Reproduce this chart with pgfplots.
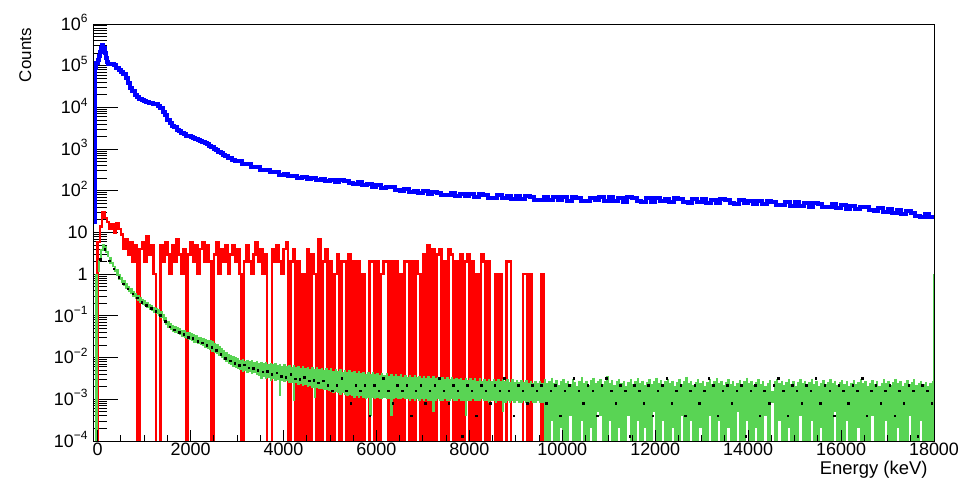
\documentclass[border=0pt]{standalone}
\usepackage{fontspec}
\setmainfont{Liberation Sans}
\usepackage{pgfplots}
\usepackage{pgfplotstable}
\pgfplotsset{compat=1.18}

\definecolor{hblue}{RGB}{0,0,255}
\definecolor{hred}{RGB}{255,0,0}
\definecolor{hgreen}{RGB}{89,212,84}

\newcommand{\tfont}{\fontsize{18}{21}\selectfont}
% ROOT-style power-of-ten tick label
\newcommand{\ex}[1]{10\smash{\raisebox{0.42em}{\fontsize{12}{12}\selectfont #1}}}

% Histograms: left bin edge E (keV) and bin content; empty bins are stored as 1e-6
\pgfplotstableread[row sep=\\]{
E v\\
-100 18\\ -50 9.0e4\\ -25 1.15e5\\ 0 1.35e5\\ 25 1.7e5\\ 50 2.1e5\\ 75 2.7e5\\ 100 3.2e5\\ 125 2.6e5\\ 150 2.0e5\\
175 1.55e5\\ 200 1.25e5\\ 225 1.12e5\\ 250 1.08e5\\ 300 1.1e5\\ 350 1.02e5\\ 400 9.0e4\\ 450 8.1e4\\ 500 7.0e4\\ 550 6.4e4\\
600 5.0e4\\ 650 3.8e4\\ 700 3.0e4\\ 750 2.45e4\\ 800 2.0e4\\ 850 1.78e4\\ 900 1.6e4\\ 950 1.52e4\\ 1000 1.42e4\\ 1050 1.37e4\\
1100 1.3e4\\ 1150 1.26e4\\ 1200 1.18e4\\ 1250 1.2e4\\ 1300 1.1e4\\ 1350 9.6e3\\ 1400 7.8e3\\ 1450 6.4e3\\ 1500 5.0e3\\ 1550 4.3e3\\
1600 3.6e3\\ 1650 3.3e3\\ 1700 2.9e3\\ 1750 2.65e3\\ 1800 2.4e3\\ 1850 2.3e3\\ 1900 2.1e3\\ 1950 2.05e3\\ 2000 1.9e3\\ 2050 1.85e3\\
2100 1.72e3\\ 2150 1.68e3\\ 2200 1.56e3\\ 2250 1.52e3\\ 2300 1.4e3\\ 2350 1.32e3\\ 2400 1.18e3\\ 2450 1.1e3\\ 2500 980\\ 2550 930\\
2600 840\\ 2650 790\\ 2700 710\\ 2750 680\\ 2800 620\\ 2850 600\\ 2900 545\\ 2950 530\\
3000 510\\ 3100 440\\ 3200 438\\ 3300 380\\ 3400 376\\ 3500 322\\ 3600 318\\ 3700 278\\ 3800 280\\ 3900 244\\
4000 252\\ 4100 222\\ 4200 232\\ 4300 204\\ 4400 216\\ 4500 192\\ 4600 204\\ 4700 182\\ 4800 196\\ 4900 172\\
5000 186\\ 5100 165\\ 5200 180\\ 5300 172\\ 5400 155\\ 5500 148\\ 5600 160\\ 5700 137\\ 5800 146\\ 5900 125\\
6000 138\\ 6100 116\\ 6200 126\\ 6300 120\\ 6400 104\\ 6500 100\\ 6600 110\\ 6700 93\\ 6800 101\\ 6900 87\\
7000 97\\ 7100 84\\ 7200 94\\ 7300 90\\ 7400 80\\ 7500 80\\ 7600 88\\ 7700 76\\ 7800 85\\ 7900 74\\
8000 84\\ 8100 72\\ 8200 82\\ 8300 80\\ 8400 69\\ 8500 69\\ 8600 78\\ 8700 67\\ 8800 77\\ 8900 65\\
9000 76\\ 9100 62\\ 9200 74\\ 9300 71\\ 9400 61\\ 9500 60\\ 9600 73\\ 9700 59\\ 9800 71\\ 9900 59\\
10000 72\\ 10100 58\\ 10200 70\\ 10300 67\\ 10400 57\\ 10500 57\\ 10600 69\\ 10700 59\\ 10800 71\\ 10900 56\\
11000 70\\ 11100 58\\ 11200 67\\ 11300 55\\ 11400 70\\ 11500 68\\ 11600 56\\ 11700 55\\ 11800 68\\ 11900 54\\
12000 67\\ 12100 56\\ 12200 64\\ 12300 53\\ 12400 66\\ 12500 63\\ 12600 53\\ 12700 52\\ 12800 64\\ 12900 53\\
13000 63\\ 13100 52\\ 13200 61\\ 13300 51\\ 13400 62\\ 13500 60\\ 13600 50\\ 13700 49\\ 13800 60\\ 13900 50\\
14000 58\\ 14100 48\\ 14200 58\\ 14300 47\\ 14400 56\\ 14500 54\\ 14600 46\\ 14700 45\\ 14800 54\\ 14900 44\\
15000 53\\ 15100 43\\ 15200 51\\ 15300 42\\ 15400 50\\ 15500 48\\ 15600 40\\ 15700 40\\ 15800 47\\ 15900 38\\
16000 46\\ 16100 37\\ 16200 44\\ 16300 36\\ 16400 42\\ 16500 40\\ 16600 34\\ 16700 33\\ 16800 39\\ 16900 31\\
17000 37\\ 17100 30\\ 17200 34\\ 17300 28\\ 17400 32\\ 17500 30\\ 17600 25\\ 17700 24\\ 17800 28\\ 17900 23\\
18000 23\\
}\bluetab

\pgfplotstableread[row sep=\\]{
E v\\
-50 1e-6\\ 0 6\\ 50 14\\ 100 30\\ 150 22\\ 200 18\\ 250 12\\ 300 16\\ 350 10\\ 400 17\\ 450 12\\
500 9\\ 550 4\\ 600 7\\ 650 3\\ 700 6\\ 750 2\\ 800 5\\ 850 1e-6\\ 900 4\\ 950 6\\
1000 2\\ 1050 8\\ 1100 3\\ 1150 5\\ 1200 1\\ 1250 1e-6\\ 1300 1e-6\\ 1350 5\\ 1400 2\\ 1450 6\\
1500 3\\ 1550 1\\ 1600 5\\ 1650 2\\ 1700 7\\ 1750 3\\ 1800 1\\ 1850 4\\ 1900 1e-6\\ 1950 3\\
2000 6\\ 2050 2\\ 2100 5\\ 2150 1\\ 2200 4\\ 2250 6\\ 2300 2\\ 2350 5\\ 2400 2\\ 2450 1e-6\\
2500 3\\ 2550 6\\ 2600 1\\ 2650 4\\ 2700 2\\ 2750 5\\ 2800 1\\ 2850 3\\ 2900 5\\ 2950 2\\
3000 4\\ 3050 1\\ 3100 1e-6\\ 3150 2\\ 3200 5\\ 3250 2\\ 3300 1\\ 3350 3\\ 3400 6\\ 3450 2\\
3500 4\\ 3550 1\\ 3600 3\\ 3650 1e-6\\ 3700 1e-6\\ 3750 4\\ 3800 2\\ 3850 5\\ 3900 2\\ 3950 1\\
4000 4\\ 4050 6\\ 4100 1e-6\\ 4150 2\\ 4200 4\\ 4250 1e-6\\ 4300 2\\ 4350 1e-6\\ 4400 1\\ 4450 1e-6\\
4500 4\\ 4550 1e-6\\ 4600 3\\ 4650 1\\ 4700 1e-6\\ 4750 7\\ 4800 1e-6\\ 4850 2\\ 4900 4\\ 4950 1e-6\\
5000 2\\ 5050 1e-6\\ 5100 1\\ 5150 3\\ 5200 1e-6\\ 5250 2\\ 5300 2\\ 5350 1e-6\\ 5400 3\\ 5450 1e-6\\
5500 2\\ 5550 1e-6\\ 5600 2\\ 5650 1e-6\\ 5700 1\\ 5750 1e-6\\ 5800 1e-6\\ 5850 2\\ 5900 2\\ 5950 1e-6\\
6000 2\\ 6050 1e-6\\ 6100 1\\ 6150 2\\ 6200 2\\ 6250 1e-6\\ 6300 2\\ 6350 1e-6\\ 6400 2\\ 6450 1e-6\\
6500 1\\ 6550 1e-6\\ 6600 2\\ 6650 2\\ 6700 1e-6\\ 6750 2\\ 6800 1e-6\\ 6850 2\\ 6900 1\\ 6950 1e-6\\
7000 3\\ 7050 1e-6\\ 7100 5\\ 7150 1e-6\\ 7200 4\\ 7250 1e-6\\ 7300 3\\ 7350 4\\ 7400 1e-6\\ 7450 2\\
7500 1e-6\\ 7550 4\\ 7600 3\\ 7650 1e-6\\ 7700 2\\ 7750 1e-6\\ 7800 3\\ 7850 1e-6\\ 7900 2\\ 7950 3\\
8000 1e-6\\ 8050 2\\ 8100 1e-6\\ 8150 1\\ 8200 1e-6\\ 8250 3\\ 8300 2\\ 8350 1e-6\\ 8400 2\\ 8450 1e-6\\
8500 1e-6\\ 8550 1\\ 8600 1e-6\\ 8650 1\\ 8700 1e-6\\ 8750 1e-6\\ 8800 2\\ 8850 2\\ 8900 1e-6\\ 8950 1e-6\\
9000 1e-6\\ 9050 1e-6\\ 9100 1e-6\\ 9150 1\\ 9200 1\\ 9250 1e-6\\ 9300 1\\ 9350 1e-6\\ 9400 1e-6\\ 9450 1e-6\\
9500 1e-6\\ 9550 1\\ 9600 1e-6\\
}\redtab

% Green histogram: upper (u) and lower (l) envelope of the fine-binned content in each 50 keV slice
\pgfplotstableread[row sep=\\]{
E u l\\
-50 1 1e-6\\ 0 2.2 1.1\\ 50 4.0 2.5\\ 100 5.3 3.7\\ 150 4.7 3.3\\ 200 3.7 2.6\\ 250 2.6 1.8\\ 300 2.0 1.45\\ 350 1.6 1.15\\ 400 1.3 0.93\\ 450 1.02 0.74\\
500 0.86 0.62\\ 550 0.72 0.52\\ 600 0.61 0.43\\ 650 0.53 0.38\\ 700 0.46 0.33\\ 750 0.40 0.29\\ 800 0.355 0.255\\ 850 0.32 0.225\\ 900 0.285 0.205\\ 950 0.26 0.185\\
1000 0.236 0.17\\ 1050 0.216 0.155\\ 1100 0.198 0.14\\ 1150 0.182 0.13\\ 1200 0.168 0.12\\ 1250 0.157 0.11\\ 1300 0.146 0.10\\ 1350 0.132 0.088\\ 1400 0.112 0.074\\ 1450 0.092 0.062\\
1500 0.077 0.052\\ 1550 0.067 0.046\\ 1600 0.061 0.042\\ 1650 0.057 0.038\\ 1700 0.054 0.036\\ 1750 0.050 0.034\\ 1800 0.047 0.032\\ 1850 0.045 0.029\\ 1900 0.042 0.028\\ 1950 0.040 0.026\\
2000 0.038 0.025\\ 2050 0.036 0.023\\ 2100 0.034 0.022\\ 2150 0.032 0.021\\ 2200 0.031 0.020\\ 2250 0.030 0.019\\ 2300 0.028 0.017\\ 2350 0.027 0.016\\ 2400 0.026 0.015\\ 2450 0.025 0.014\\
2500 0.023 0.013\\ 2550 0.021 0.012\\ 2600 0.019 0.011\\ 2650 0.017 0.0096\\ 2700 0.015 0.0086\\ 2750 0.0135 0.0078\\ 2800 0.0125 0.0072\\ 2850 0.0115 0.0066\\ 2900 0.0108 0.0061\\ 2950 0.0102 0.0057\\
3000 0.0100 0.0052\\ 3050 0.0090 0.0050\\ 3100 0.0094 0.0046\\ 3150 0.0085 0.0047\\ 3200 0.0090 0.0043\\ 3250 0.0082 0.0044\\ 3300 0.0086 0.0040\\ 3350 0.0078 0.0042\\ 3400 0.0083 0.0038\\ 3450 0.0076 0.0036\\
3500 0.0080 0.0031\\ 3550 0.0074 0.0034\\ 3600 0.0078 0.0031\\ 3650 0.0071 0.0032\\ 3700 0.0075 0.0028\\ 3750 0.0069 0.0030\\ 3800 0.0073 0.0027\\ 3850 0.0066 0.0029\\ 3900 0.0071 0.0012\\ 3950 0.0064 0.0027\\
4000 0.0069 0.0026\\ 4050 0.0062 0.0027\\ 4100 0.0067 0.0024\\ 4150 0.0060 0.0025\\ 4200 0.0065 0.0009\\ 4250 0.0058 0.0024\\ 4300 0.0063 0.0022\\ 4350 0.0057 0.0023\\ 4400 0.0062 0.0021\\ 4450 0.0055 0.0022\\
4500 0.0060 0.0020\\ 4550 0.0054 0.0021\\ 4600 0.0059 0.0019\\ 4650 0.0053 0.0011\\ 4700 0.0058 0.0019\\ 4750 0.0052 0.0018\\ 4800 0.0057 0.0018\\ 4850 0.0051 0.0017\\ 4900 0.0056 0.0017\\ 4950 0.0050 0.0016\\
5000 0.0055 0.0015\\ 5050 0.0049 0.0014\\ 5100 0.0053 0.0015\\ 5150 0.0047 0.0014\\ 5200 0.0052 0.0013\\ 5250 0.0046 0.0014\\ 5300 0.0051 0.0013\\ 5350 0.0045 0.0012\\ 5400 0.0050 0.0013\\ 5450 0.0044 0.0012\\
5500 0.0049 0.0011\\ 5550 0.0043 0.0012\\ 5600 0.0047 0.0011\\ 5650 0.0042 0.0012\\ 5700 0.0046 0.0011\\ 5750 0.0041 0.0010\\ 5800 0.0045 0.0011\\ 5850 0.0040 0.0004\\ 5900 0.0044 0.0011\\ 5950 0.0040 0.0010\\
6000 0.0043 0.0011\\ 6050 0.0039 0.0010\\ 6100 0.0042 0.0010\\ 6150 0.0038 0.0011\\ 6200 0.0042 0.0010\\ 6250 0.0037 0.0010\\ 6300 0.0041 0.0004\\ 6350 0.0037 0.0010\\ 6400 0.0040 0.0011\\ 6450 0.0036 0.0010\\
6500 0.0040 0.0010\\ 6550 0.0035 0.0011\\ 6600 0.0039 0.0010\\ 6650 0.0035 0.0010\\ 6700 0.0038 0.0009\\ 6750 0.0034 0.0010\\ 6800 0.0038 0.0009\\ 6850 0.0034 0.0010\\ 6900 0.0037 0.0009\\ 6950 0.0033 0.0010\\
7000 0.0037 0.0009\\ 7050 0.0033 0.0010\\ 7100 0.0036 0.0009\\ 7150 0.0032 0.0009\\ 7200 0.0036 0.0005\\ 7250 0.0032 0.0009\\ 7300 0.0035 0.0010\\ 7350 0.0031 0.0009\\ 7400 0.0035 0.0009\\ 7450 0.0031 0.0010\\
7500 0.0034 0.0009\\ 7550 0.0030 0.0009\\ 7600 0.0034 0.0010\\ 7650 0.0030 0.0009\\ 7700 0.0033 0.0009\\ 7750 0.0030 0.0010\\ 7800 0.0033 0.0009\\ 7850 0.0029 0.0009\\ 7900 0.0033 0.0004\\ 7950 0.0029 0.0009\\
8000 0.0032 0.0009\\ 8050 0.0029 0.0010\\ 8100 0.0032 0.0009\\ 8150 0.0028 0.0009\\ 8200 0.0032 0.0009\\ 8250 0.0028 0.0010\\ 8300 0.0031 0.0009\\ 8350 0.0028 0.0009\\ 8400 0.0031 0.0008\\ 8450 0.0027 0.0009\\
8500 0.0031 0.0009\\ 8550 0.0027 0.0008\\ 8600 0.0030 0.0009\\ 8650 0.0027 0.0009\\ 8700 0.0030 0.0005\\ 8750 0.0027 0.0008\\ 8800 0.0030 0.0009\\ 8850 0.0026 0.0008\\ 8900 0.0030 0.0009\\ 8950 0.0026 0.0008\\
9000 0.0029 0.0009\\ 9050 0.0026 0.0008\\ 9100 0.0029 0.0008\\ 9150 0.0026 0.0009\\ 9200 0.0029 0.0008\\ 9250 0.0025 0.0008\\ 9300 0.0028 0.0009\\ 9350 0.0025 0.0008\\ 9400 0.0028 0.0008\\ 9450 0.0025 0.0009\\
9500 0.0028 0.0008\\ 9550 0.0025 0.0008\\
9600 0.0030 1e-6\\ 9650 0.0024 1e-6\\ 9700 0.0028 1e-6\\ 9750 0.0033 3e-4\\ 9800 0.0025 1e-6\\ 9850 0.0029 1e-6\\ 9900 0.0022 1e-6\\ 9950 0.0027 2e-4\\
10000 0.0031 1e-6\\ 10050 0.0024 1e-6\\ 10100 0.0028 1e-6\\ 10150 0.0023 4e-4\\ 10200 0.0030 1e-6\\ 10250 0.0026 1e-6\\ 10300 0.0021 1e-6\\ 10350 0.0027 1e-6\\ 10400 0.0034 3e-4\\ 10450 0.0025 1e-6\\
10500 0.0028 1e-6\\ 10550 0.0022 1e-6\\ 10600 0.0029 2e-4\\ 10650 0.0033 1e-6\\ 10700 0.0024 1e-6\\ 10750 0.0027 5e-4\\ 10800 0.0030 4e-4\\ 10850 0.0023 1e-6\\ 10900 0.0028 1e-6\\ 10950 0.0036 1e-6\\
11000 0.0025 3e-4\\ 11050 0.0029 1e-6\\ 11100 0.0022 1e-6\\ 11150 0.0027 1e-6\\ 11200 0.0031 2e-4\\ 11250 0.0024 1e-6\\ 11300 0.0028 1e-6\\ 11350 0.0021 1e-6\\ 11400 0.0026 4e-4\\ 11450 0.0030 1e-6\\
11500 0.0023 1e-6\\ 11550 0.0027 1e-6\\ 11600 0.0032 3e-4\\ 11650 0.0024 1e-6\\ 11700 0.0028 1e-6\\ 11750 0.0022 2e-4\\ 11800 0.0026 1e-6\\ 11850 0.0030 1e-6\\ 11900 0.0023 1e-6\\ 11950 0.0027 5e-4\\
12000 0.0033 1e-6\\ 12050 0.0025 1e-6\\ 12100 0.0029 1e-6\\ 12150 0.0022 3e-4\\ 12200 0.0027 1e-6\\ 12250 0.0031 1e-6\\ 12300 0.0024 1e-6\\ 12350 0.0028 2e-4\\ 12400 0.0021 1e-6\\ 12450 0.0026 1e-6\\
12500 0.0030 1e-6\\ 12550 0.0023 4e-4\\ 12600 0.0027 1e-6\\ 12650 0.0035 1e-6\\ 12700 0.0025 1e-6\\ 12750 0.0028 3e-4\\ 12800 0.0022 1e-6\\ 12850 0.0026 1e-6\\ 12900 0.0030 1e-6\\ 12950 0.0024 2e-4\\
13000 0.0028 1e-6\\ 13050 0.0021 1e-6\\ 13100 0.0026 1e-6\\ 13150 0.0031 4e-4\\ 13200 0.0023 1e-6\\ 13250 0.0027 1e-6\\ 13300 0.0032 1e-6\\ 13350 0.0024 3e-4\\ 13400 0.0028 1e-6\\ 13450 0.0022 1e-6\\
13500 0.0026 1e-6\\ 13550 0.0030 2e-4\\ 13600 0.0023 1e-6\\ 13650 0.0027 1e-6\\ 13700 0.0021 1e-6\\ 13750 0.0025 5e-4\\ 13800 0.0029 1e-6\\ 13850 0.0023 1e-6\\ 13900 0.0027 1e-6\\ 13950 0.0033 3e-4\\
14000 0.0024 1e-6\\ 14050 0.0028 1e-6\\ 14100 0.0022 1e-6\\ 14150 0.0026 2e-4\\ 14200 0.0030 1e-6\\ 14250 0.0023 1e-6\\ 14300 0.0027 1e-6\\ 14350 0.0021 4e-4\\ 14400 0.0025 1e-6\\ 14450 0.0029 1e-6\\
14500 0.0016 8e-4\\ 14550 0.0027 1e-6\\ 14600 0.0031 1e-6\\ 14650 0.0024 3e-4\\ 14700 0.0028 1e-6\\ 14750 0.0022 1e-6\\ 14800 0.0026 1e-6\\ 14850 0.0030 2e-4\\ 14900 0.0023 1e-6\\ 14950 0.0027 1e-6\\
15000 0.0021 1e-6\\ 15050 0.0026 1e-6\\ 15100 0.0030 4e-4\\ 15150 0.0024 1e-6\\ 15200 0.0028 1e-6\\ 15250 0.0022 1e-6\\ 15300 0.0026 1e-6\\ 15350 0.0031 3e-4\\ 15400 0.0023 1e-6\\ 15450 0.0027 1e-6\\
15500 0.0021 1e-6\\ 15550 0.0025 2e-4\\ 15600 0.0029 1e-6\\ 15650 0.0023 1e-6\\ 15700 0.0026 1e-6\\ 15750 0.0030 1e-6\\ 15800 0.0024 1e-6\\ 15850 0.0028 5e-4\\ 15900 0.0022 1e-6\\ 15950 0.0026 1e-6\\
16000 0.0029 1e-6\\ 16050 0.0023 1e-6\\ 16100 0.0027 3e-4\\ 16150 0.0021 1e-6\\ 16200 0.0025 1e-6\\ 16250 0.0029 1e-6\\ 16300 0.0023 1e-6\\ 16350 0.0026 2e-4\\ 16400 0.0030 1e-6\\ 16450 0.0024 1e-6\\
16500 0.0027 1e-6\\ 16550 0.0021 1e-6\\ 16600 0.0025 1e-6\\ 16650 0.0029 4e-4\\ 16700 0.0023 1e-6\\ 16750 0.0027 1e-6\\ 16800 0.0021 1e-6\\ 16850 0.0025 1e-6\\ 16900 0.0030 1e-6\\ 16950 0.0024 3e-4\\
17000 0.0028 1e-6\\ 17050 0.0022 1e-6\\ 17100 0.0026 1e-6\\ 17150 0.0031 1e-6\\ 17200 0.0024 2e-4\\ 17250 0.0027 1e-6\\ 17300 0.0021 1e-6\\ 17350 0.0025 1e-6\\ 17400 0.0029 1e-6\\ 17450 0.0023 4e-4\\
17500 0.0026 1e-6\\ 17550 0.0030 1e-6\\ 17600 0.0022 1e-6\\ 17650 0.0025 1e-6\\ 17700 0.0028 3e-4\\ 17750 0.0023 1e-6\\ 17800 0.0026 1e-6\\ 17850 0.0021 1e-6\\ 17900 0.0025 1e-6\\ 17950 0.0028 1e-6\\
}\greentab

% Reference points drawn as markers at the 100 keV bin centres
\pgfplotstableread[row sep=\\]{
E v\\
50 2.3\\ 150 4.0\\ 250 2.1\\ 350 1.35\\ 450 0.85\\ 550 0.6\\ 650 0.45\\ 750 0.34\\ 850 0.27\\ 950 0.215\\
1050 0.18\\ 1150 0.155\\ 1250 0.13\\ 1350 0.105\\ 1450 0.075\\ 1550 0.055\\ 1650 0.047\\ 1750 0.041\\ 1850 0.036\\ 1950 0.031\\
2050 0.029\\ 2150 0.025\\ 2250 0.023\\ 2350 0.020\\ 2450 0.018\\ 2550 0.015\\ 2650 0.012\\ 2750 0.0098\\ 2850 0.0085\\ 2950 0.0074\\
3050 0.0066\\ 3150 0.0068\\ 3250 0.0057\\ 3350 0.0055\\ 3450 0.0050\\ 3550 0.0046\\ 3650 0.0047\\ 3750 0.0040\\ 3850 0.0043\\ 3950 0.0036\\
4050 0.0034\\ 4150 0.0040\\ 4250 0.0031\\ 4350 0.0030\\ 4450 0.0034\\ 4550 0.0028\\ 4650 0.0029\\ 4750 0.0025\\ 4850 0.0028\\ 4950 0.0022\\
5050 0.0016\\ 5150 0.0022\\ 5250 0.0032\\ 5350 0.0016\\ 5450 0.0008\\ 5550 0.0022\\ 5650 0.0016\\ 5750 0.0022\\ 5850 0.0004\\ 5950 0.0022\\
6050 0.0016\\ 6150 0.0032\\ 6250 0.0016\\ 6350 0.0008\\ 6450 0.0022\\ 6550 0.0016\\ 6650 0.0022\\ 6750 0.0004\\ 6850 0.0016\\ 6950 0.0022\\
7050 0.0008\\ 7150 0.0016\\ 7250 0.0022\\ 7350 0.0032\\ 7450 0.0016\\ 7550 0.0008\\ 7650 0.0022\\ 7750 0.0016\\ 7850 0.00013\\ 7950 0.0022\\
8050 0.0016\\ 8150 0.0004\\ 8250 0.0022\\ 8350 0.0016\\ 8450 0.0008\\ 8550 0.0022\\ 8650 0.0016\\ 8750 0.0032\\ 8850 0.0016\\ 8950 0.0004\\
9050 0.0022\\ 9150 0.0016\\ 9250 0.0008\\ 9350 0.0022\\ 9450 0.0016\\ 9550 0.0022\\ 9650 0.0008\\ 9750 0.0016\\ 9850 0.0022\\ 9950 0.0004\\
10050 0.0016\\ 10150 0.0022\\ 10250 0.0032\\ 10350 0.0016\\ 10450 0.0008\\ 10550 0.0022\\ 10650 0.0016\\ 10750 0.0004\\ 10850 0.0022\\ 10950 0.0032\\
11050 0.0016\\ 11150 0.0008\\ 11250 0.0022\\ 11350 0.0016\\ 11450 0.00013\\ 11550 0.0022\\ 11650 0.0016\\ 11750 0.0008\\ 11850 0.0022\\ 11950 0.0004\\
12050 0.0016\\ 12150 0.0022\\ 12250 0.0032\\ 12350 0.0008\\ 12450 0.0016\\ 12550 0.0022\\ 12650 0.0004\\ 12750 0.0016\\ 12850 0.0022\\ 12950 0.0008\\
13050 0.0016\\ 13150 0.0032\\ 13250 0.0022\\ 13350 0.0004\\ 13450 0.0016\\ 13550 0.0022\\ 13650 0.0008\\ 13750 0.0016\\ 13850 0.0022\\ 13950 0.00013\\
14050 0.0016\\ 14150 0.0022\\ 14250 0.0004\\ 14350 0.0016\\ 14450 0.0008\\ 14550 0.0022\\ 14650 0.0032\\ 14750 0.0016\\ 14850 0.0004\\ 14950 0.0022\\
15050 0.0016\\ 15150 0.0008\\ 15250 0.0022\\ 15350 0.0016\\ 15450 0.0032\\ 15550 0.0008\\ 15650 0.0022\\ 15750 0.0016\\ 15850 0.0004\\ 15950 0.0022\\
16050 0.0016\\ 16150 0.0008\\ 16250 0.0022\\ 16350 0.0016\\ 16450 0.0032\\ 16550 0.0004\\ 16650 0.0016\\ 16750 0.0022\\ 16850 0.0008\\ 16950 0.0016\\
17050 0.0022\\ 17150 0.0004\\ 17250 0.0016\\ 17350 0.0008\\ 17450 0.0022\\ 17550 0.0016\\ 17650 0.00013\\ 17750 0.0022\\ 17850 0.0016\\ 17950 0.0008\\
}\dottab

\begin{document}
\begin{tikzpicture}
\path[use as bounding box] (-93bp,-37bp) rectangle (867bp,441bp);

% data, y axis and all labels
\begin{axis}[
  at={(0,0)}, anchor=south west,
  scale only axis, width=841bp, height=417bp,
  xmin=-100, xmax=18000,
  ymode=log, ymin=1e-4, ymax=1e6,
  scaled ticks=false,
  axis line style={black, line width=0.9bp},
  tick pos=left,
  xtick={0,2000,4000,6000,8000,10000,12000,14000,16000,18000},
  xticklabels={0,2000,4000,6000,8000,10000,12000,14000,16000,18000},
  xtick style={draw=none},
  minor x tick num=0,
  ytick={1e-4,1e-3,1e-2,1e-1,1,10,100,1e3,1e4,1e5,1e6},
  yticklabels={\ex{−4},\ex{−3},\ex{−2},\ex{−1},1,10,\ex{2},\ex{3},\ex{4},\ex{5},\ex{6}},
  minor ytick={2e-4,3e-4,4e-4,5e-4,6e-4,7e-4,8e-4,9e-4,
    2e-3,3e-3,4e-3,5e-3,6e-3,7e-3,8e-3,9e-3,
    0.02,0.03,0.04,0.05,0.06,0.07,0.08,0.09,
    0.2,0.3,0.4,0.5,0.6,0.7,0.8,0.9,
    2,3,4,5,6,7,8,9,
    20,30,40,50,60,70,80,90,
    200,300,400,500,600,700,800,900,
    2000,3000,4000,5000,6000,7000,8000,9000,
    2e4,3e4,4e4,5e4,6e4,7e4,8e4,9e4,
    2e5,3e5,4e5,5e5,6e5,7e5,8e5,9e5},
  major tick length=25bp, minor tick length=14bp,
  ytick style={black, line width=0.9bp},
  tick label style={font=\tfont, text=black},
  yticklabel style={xshift=-2bp},
  xticklabel style={yshift=1.5bp},
  xlabel={Energy (keV)}, ylabel={Counts},
  every axis x label/.style={at={(axis description cs:0.9964,-0.0795)}, anchor=base east,
    font=\fontsize{18.5}{21}\selectfont},
  every axis y label/.style={at={(axis description cs:-0.0737,0.998)}, anchor=base east, rotate=90,
    font=\fontsize{17}{20}\selectfont},
]
\addplot[hred, line width=2.4bp, const plot mark left] table[x=E, y=v] {\redtab};
\addplot[hblue, line width=4bp, const plot mark left] table[x=E, y=v] {\bluetab};
% each 50 keV slice of the green histogram spans from its lower to its upper content
\addplot[hgreen, only marks, mark=*, mark size=0pt, mark options={draw opacity=0, fill opacity=0},
  error bars/.cd, y dir=minus, y explicit, error mark=none,
  error bar style={draw=hgreen, line width=2.45bp}]
  table[x expr=\thisrow{E}+25, y=u, y error minus expr=\thisrow{u}-\thisrow{l}] {\greentab};
\addplot[hgreen, line width=1.6bp] coordinates {(18000,1e-6) (18000,1)};
\addplot[only marks, mark=square*, mark size=0.75bp, black] table[x=E, y=v] {\dottab};
\end{axis}

% x ticks, which are shorter than the y ticks
\begin{axis}[
  at={(0,0)}, anchor=south west,
  scale only axis, width=841bp, height=417bp,
  xmin=-100, xmax=18000,
  ymode=log, ymin=1e-4, ymax=1e6,
  scaled ticks=false,
  axis line style={black, line width=0.9bp},
  tick pos=left,
  xtick={0,2000,4000,6000,8000,10000,12000,14000,16000,18000},
  xticklabels={},
  minor x tick num=3,
  ytick=\empty, yticklabels={},
  major tick length=11bp, minor tick length=6bp,
  xtick style={black, line width=0.9bp},
]
\end{axis}
\end{tikzpicture}
\end{document}
